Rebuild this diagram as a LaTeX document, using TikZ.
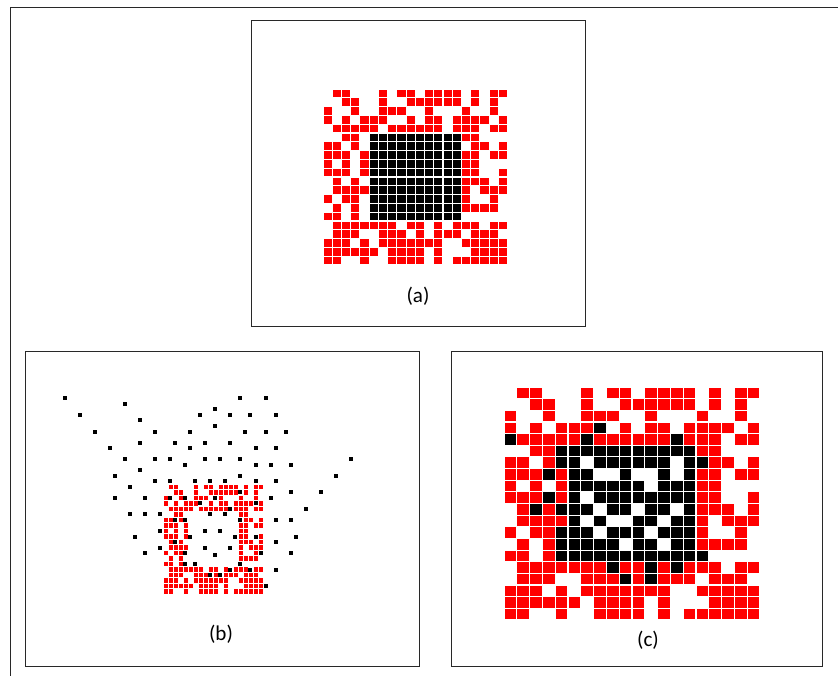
\documentclass[tikz,border=0pt]{standalone}
\usepackage{fontspec}
\setmainfont{Carlito}
\usetikzlibrary{positioning}
\definecolor{pixred}{RGB}{255,0,0}
\definecolor{framegray}{RGB}{40,40,40}

% red background pixels, row/{columns}
\def\redrows{0/{1,2,6,8,9,11,12,13,14,16,18,19},
  1/{2,3,6,9,10,11,12,13,14,16,18},
  2/{0,3,6,7,8,11,15,18},
  3/{0,2,4,5,6,9,11,12,14,15,16,17,19},
  4/{1,2,3,4,5,7,8,9,10,11,12,14,15,16,18,19},
  5/{2,3,15,16},
  6/{0,1,3,16,17,19},
  7/{0,1,2,4,15,16,18,19},
  8/{0,2,4,15,16},
  9/{0,1,2,4,15,16,19},
  10/{1,3,15,16,17,19},
  11/{1,2,3,4,15,17,18,19},
  12/{0,2,3,15,18},
  13/{1,3,15,16,17,18},
  14/{0,1,3},
  15/{1,2,3,4,5,6,7,9,10,12,14,15,16,18,19},
  16/{1,2,3,6,7,8,10,12,13,14,16,17,18},
  17/{0,1,2,4,6,7,8,9,10,11,12,15,16,17,18,19},
  18/{0,1,2,3,4,5,7,8,9,10,12,16,17,18,19},
  19/{0,1,4,7,8,9,10,12,14,15,16,17,18,19}}

% black pixels of the reconstruction (c)
\def\blackrows{3/{7},
  4/{0,6,13},
  5/{4,5,6,7,8,9,10,11,12,13,14},
  6/{4,5,7,8,9,10,11,12,14,15},
  7/{3,5,6,9,12,14},
  8/{5,6,7,8,9,10,12,13,14},
  9/{3,5,7,8,9,10,11,12,13,14},
  10/{2,4,5,6,8,9,11,12,14},
  11/{5,7,10,11,13,14},
  12/{4,5,6,8,9,10,12,13,14},
  13/{4,5,6,7,8,10,11,13,14},
  14/{4,5,6,7,8,9,10,11,12,13,14,15},
  15/{8,11,13},
  16/{9,11}}

\begin{document}
\begin{tikzpicture}[x=0.03cm, y=-0.03cm,
  outerframe/.style={draw=framegray, line width=1.7pt},
  panel/.style={draw=framegray, line width=1pt},
  redpix/.style={fill=pixred},
  blackpix/.style={fill=black},
  lbl/.style={font=\fontsize{18}{20}\selectfont, inner sep=0pt}
]
\useasboundingbox (0,0) rectangle (838,676);
\draw[outerframe] (838,7.5) -- (10.5,7.5) -- (10.5,676);

% panels
\draw[panel] (251.5,20.5) rectangle (585.5,326.5);
\draw[panel] (25.5,351.5) rectangle (419.5,666.5);
\draw[panel] (451.5,351.5) rectangle (822.5,666.5);

% (a) ground truth
\begin{scope}[shift={(323,89)}, x=0.2769cm, y=-0.264cm]
  \foreach \r/\cs in \redrows {
    \foreach \c in \cs {\fill[redpix] (\c+0.06,\r+0.06) rectangle (\c+0.94,\r+0.94);}
  }
  \foreach \r in {5,...,14} {
    \foreach \c in {5,...,14} {\fill[blackpix] (\c+0.06,\r+0.06) rectangle (\c+0.94,\r+0.94);}
  }
\end{scope}
\node[lbl] (labA) at (418,296) {(a)};

% (b) projected points
\begin{scope}[shift={(163.3,484.3)}, x=0.15cm, y=-0.165cm]
  \foreach \r/\cs in \redrows {
    \foreach \c in \cs {\fill[redpix] (\c+0.08,\r+0.08) rectangle (\c+0.92,\r+0.92);}
  }
\end{scope}
\foreach \px/\py in {65/398.3, 125/404, 80/415, 200/415, 140/420.3, 95/431.7,
  155/431.7, 190/431.7, 110/448.3, 140/442.7, 175/442.7, 190/448.3, 205.3/442.7,
  125/459, 155/459, 170/459, 205.3/459, 185/465, 115/475.7, 140/470.3, 130/486.7,
  155/481.3, 170/481.3, 195.3/481.3, 210.3/481.3, 115/498, 145/498, 170/498,
  185/498, 200/503.3, 130/514.3, 145/514.3, 160/514.3, 175/520, 185/520, 160/531,
  205.3/531, 135/536.7, 190/536.7, 175/541.7, 160/547.7, 205.3/547.7, 145/553.3,
  185/553.3, 185/564, 195.3/564, 240.3/398.3, 265.7/398.3, 215.3/409.3, 230.3/415,
  250.3/415, 275.7/415, 215.3/426, 245.3/431.7, 265.7/431.7, 285.7/431.7,
  230.3/442.7, 255.7/448.3, 275.7/448.3, 220.3/459, 240.3/459, 351/459, 255.7/465,
  270.7/465, 290.7/465, 240.3/475.7, 335.7/475.7, 225.3/481.3, 255.7/481.3,
  275.7/481.3, 240.3/492.3, 290.7/492.3, 320.7/492.3, 215.3/497.7, 270.7/497.7,
  230.3/509, 255.7/503.3, 305.7/509, 210.3/514.3, 225.3/514.3, 240.3/520,
  275.7/520, 290.7/520, 220.3/531, 235.3/536.7, 255.7/536.7, 295.7/536.7,
  275.7/542, 230.3/547.7, 260.7/553, 290.7/553, 215.3/555, 240.3/564, 230.3/569.7,
  250.3/569.7, 275.7/569.7, 210.3/575.3, 220.3/575.3, 265.7/586.3}
  {\fill[blackpix] (\px-2,\py-2) rectangle (\px+2,\py+2);}
\node[lbl] (labB) at (221,634) {(b)};

% (c) reconstruction
\begin{scope}[shift={(504,387)}, x=0.384cm, y=-0.3495cm]
  \foreach \r/\cs in \redrows {
    \foreach \c in \cs {\fill[redpix] (\c+0.05,\r+0.05) rectangle (\c+0.95,\r+0.95);}
  }
  \foreach \r/\cs in \blackrows {
    \foreach \c in \cs {\fill[blackpix] (\c+0.05,\r+0.05) rectangle (\c+0.95,\r+0.95);}
  }
\end{scope}
\node[lbl] (labC) at (648,640) {(c)};
\end{tikzpicture}
\end{document}
